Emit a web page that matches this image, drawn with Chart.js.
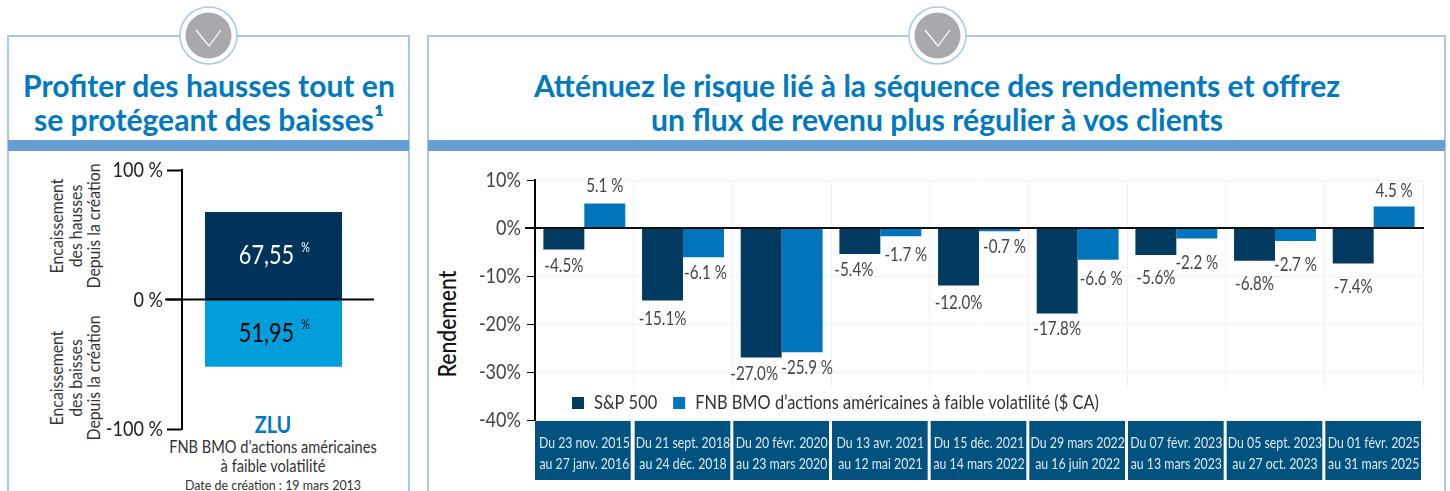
<!DOCTYPE html>
<html lang="fr"><head><meta charset="utf-8">
<script src="https://cdn.jsdelivr.net/npm/chart.js@4"></script>
<style>
html,body{margin:0;padding:0;width:1450px;height:491px;overflow:hidden;background:#fff;font-family:Lato,sans-serif}
.panel{position:absolute;top:35px;height:470px;border:2px solid #a9c9ea;box-sizing:border-box}
.band{position:absolute;top:140px;height:11px;background:#669fd6}
.line{position:absolute;white-space:nowrap;transform:translateX(-50%) scaleX(var(--k,.86));text-align:center}
.t{color:#0079c1;font-weight:700;font-size:31px;line-height:34px;--k:.97}
.rot{position:absolute;transform:translate(-50%,-50%) rotate(-90deg) scaleX(.88);text-align:center;white-space:nowrap;color:#333;font-size:18px;line-height:18.5px}
canvas,svg{position:absolute}
</style></head><body>
<div class="panel" style="left:7px;width:403px"></div>
<div class="panel" style="left:427px;width:1019px"></div>
<div class="band" style="left:8px;width:401px"></div>
<div class="band" style="left:428px;width:1017px"></div>
<svg style="left:0;top:0" width="1450" height="80">
  <g><circle cx="208.5" cy="35.5" r="28.5" fill="#fff" stroke="#a9c9ea" stroke-width="1.5"/><circle cx="208.5" cy="35.5" r="23" fill="#a7a9ac"/><path d="M196 30 L209 46 L221 30" fill="none" stroke="#fff" stroke-width="1.2"/></g>
  <g><circle cx="937.5" cy="35.5" r="28.5" fill="#fff" stroke="#a9c9ea" stroke-width="1.5"/><circle cx="937.5" cy="35.5" r="23" fill="#a7a9ac"/><path d="M925 30 L938 46 L950 30" fill="none" stroke="#fff" stroke-width="1.2"/></g>
</svg>
<div class="line t" style="left:208.5px;top:68px">Profiter des hausses tout en</div>
<div class="line t" style="left:208.5px;top:102px">se protégeant des baisses¹</div>
<div class="line t" style="left:937px;top:68px">Atténuez le risque lié à la séquence des rendements et offrez</div>
<div class="line t" style="left:937px;top:102px">un flux de revenu plus régulier à vos clients</div>
<div class="rot" style="left:75px;top:225.5px">Encaissement<br>des hausses<br>Depuis la création</div>
<div class="rot" style="left:75px;top:378px">Encaissement<br>des baisses<br>Depuis la création</div>
<div class="rot" style="left:447px;top:324px;font-size:24px;color:#111;line-height:24px;font-weight:500">Rendement</div>
<div class="line" style="left:273px;top:410px;font-size:23px;font-weight:700;color:#0079c1">ZLU</div>
<div class="line" style="left:273px;top:437px;font-size:17px;color:#333;line-height:20px">FNB BMO d’actions américaines</div>
<div class="line" style="left:273px;top:456px;font-size:17px;color:#333;line-height:20px">à faible volatilité</div>
<div class="line" style="left:273px;top:477px;font-size:13.5px;color:#333;--k:.92">Date de création : 19 mars 2013</div>
<canvas id="left" width="275" height="299" style="left:100px;top:150px"></canvas>
<canvas id="right" width="995" height="320" style="left:430px;top:160px"></canvas>
<script>
const FONT = 'Lato,sans-serif';
const SQUEEZE = 0.82;

const captureSeries = ['Encaissement des hausses', 'Encaissement des baisses'];
const captureValues = [67.55, -51.95];
const captureTicks = [100, 0, -100];

const periods = [
  ['Du 23 nov. 2015', 'au 27 janv. 2016'],
  ['Du 21 sept. 2018', 'au 24 déc. 2018'],
  ['Du 20 févr. 2020', 'au 23 mars 2020'],
  ['Du 13 avr. 2021', 'au 12 mai 2021'],
  ['Du 15 déc. 2021', 'au 14 mars 2022'],
  ['Du 29 mars 2022', 'au 16 juin 2022'],
  ['Du 07 févr. 2023', 'au 13 mars 2023'],
  ['Du 05 sept. 2023', 'au 27 oct. 2023'],
  ['Du 01 févr. 2025', 'au 31 mars 2025']
];
const sp500 = [-4.5, -15.1, -27.0, -5.4, -12.0, -17.8, -5.6, -6.8, -7.4];
const zlu = [5.1, -6.1, -25.9, -1.7, -0.7, -6.6, -2.2, -2.7, 4.5];
const sp500Name = 'S&P 500';
const zluName = 'FNB BMO d’actions américaines à faible volatilité ($ CA)';

// The reference face is condensed: squeeze all canvas text horizontally.
function condense(canvas) {
  const ctx = canvas.getContext('2d');
  const fill = ctx.fillText.bind(ctx), measure = ctx.measureText.bind(ctx);
  ctx.fillText = function (t, x, y) {
    ctx.save(); ctx.translate(x, y); ctx.scale(SQUEEZE, 1); fill(t, 0, 0); ctx.restore();
  };
  ctx.measureText = function (t) { return {width: measure(t).width * SQUEEZE}; };
  return canvas;
}

const capturePlugin = {
  id: 'capture',
  afterDatasetsDraw(chart) {
    const {ctx, scales: {y}} = chart;
    const zero = y.getPixelForValue(0);
    ctx.save();
    ctx.strokeStyle = '#000'; ctx.lineWidth = 2;
    ctx.beginPath(); ctx.moveTo(65, zero); ctx.lineTo(274, zero); ctx.stroke();
    ctx.textBaseline = 'middle';
    chart.data.datasets.forEach((ds, i) => {
      const el = chart.getDatasetMeta(i).data[0];
      const s = Math.abs(ds.data[0]).toFixed(2).replace('.', ',');
      const cy = (el.y + zero) / 2;
      ctx.fillStyle = i === 0 ? '#fff' : '#000';
      ctx.font = '26.5px ' + FONT;
      const w = ctx.measureText(s).width;
      const cx = el.x - 7;
      ctx.textAlign = 'center';
      ctx.fillText(s, cx, cy);
      ctx.font = '13px ' + FONT;
      ctx.textAlign = 'left';
      ctx.fillText('%', cx + w / 2 + 7, cy - 8);
    });
    ctx.restore();
  }
};

new Chart(condense(document.getElementById('left')), {
  type: 'bar',
  data: {
    labels: ['ZLU'],
    datasets: [
      {label: captureSeries[0], data: [captureValues[0]], backgroundColor: '#003359', barPercentage: 0.749, categoryPercentage: 1},
      {label: captureSeries[1], data: [captureValues[1]], backgroundColor: '#009fdb', barPercentage: 0.749, categoryPercentage: 1}
    ]
  },
  plugins: [capturePlugin],
  options: {
    responsive: false, animation: false,
    layout: {padding: {top: 20, bottom: 20, right: 10, left: 0}},
    plugins: {legend: {display: false}, tooltip: {enabled: false}},
    scales: {
      x: {display: false, stacked: true},
      y: {
        stacked: true, min: -100, max: 100,
        afterFit(s) { s.width = 82; },
        afterBuildTicks(s) { s.ticks = captureTicks.map(v => ({value: v})); },
        border: {color: '#000', width: 2},
        grid: {drawOnChartArea: false, tickLength: 15, tickColor: '#000', tickWidth: 2},
        ticks: {color: '#222', font: {family: FONT, size: 22}, padding: 4, callback: v => v + ' %'}
      }
    }
  }
});

// Hand-placed label nudges of the original layout, in pixels from the bar end.
const labelNudgeX = [[0, 0, -7, -6, 0, 0, 0, 0, 0], [0, 2, 5, 5, 5, 3, 0, 0, 0]];
const labelNudgeY = [[16, 19, 16, 16, 17, 16, 23, 23, 24], [-17, 16, 16, 19, 16, 19, 24, 24, -15]];

const rightPlugin = {
  id: 'rightDecor',
  beforeLayout(chart) {
    const lg = chart.legend;
    if (lg && !lg._zeroFit) {
      const fit = lg.fit;
      lg.fit = function () { fit.call(this); this.height = 0; };
      lg._layers = () => [{z: 5, draw: ca => lg.draw(ca)}];
      lg._zeroFit = true;
    }
  },
  afterLayout(chart) {
    const lg = chart.legend;
    lg.left = 126; lg.right = 800; lg.top = 217; lg.bottom = 262;
  },
  beforeDraw(chart) {
    const {ctx, scales: {x}} = chart;
    const w = x.width / x.ticks.length;
    ctx.save();
    ctx.fillStyle = '#02527f';
    x.ticks.forEach((t, i) => {
      const c = x.getPixelForTick(i);
      ctx.fillRect(c - w / 2 + (i === 0 ? 0 : 1), x.top, w - 3, 60);
    });
    ctx.restore();
  },
  afterDatasetsDraw(chart) {
    const {ctx, scales: {x, y}} = chart;
    ctx.save();
    ctx.fillStyle = '#fff';
    ctx.fillRect(x.left + 1, 230, x.width + 2, y.bottom - 230);
    const zero = y.getPixelForValue(0);
    ctx.strokeStyle = '#111'; ctx.lineWidth = 2;
    ctx.beginPath(); ctx.moveTo(x.left - 10, zero); ctx.lineTo(x.right + 1, zero); ctx.stroke();
    ctx.font = '18.5px ' + FONT; ctx.fillStyle = '#444';
    ctx.textAlign = 'center'; ctx.textBaseline = 'middle';
    chart.data.datasets.forEach((ds, i) => {
      chart.getDatasetMeta(i).data.forEach((el, j) => {
        const s = ds.data[j].toFixed(1) + (i === 0 ? '%' : ' %');
        ctx.fillText(s, el.x + labelNudgeX[i][j], el.y + labelNudgeY[i][j]);
      });
    });
    ctx.restore();
  }
};

new Chart(condense(document.getElementById('right')), {
  type: 'bar',
  data: {
    labels: periods,
    datasets: [
      {label: sp500Name, data: sp500, backgroundColor: '#023a60', barPercentage: 1, categoryPercentage: 0.83},
      {label: zluName, data: zlu, backgroundColor: '#0174bb', barPercentage: 1, categoryPercentage: 0.83}
    ]
  },
  plugins: [rightPlugin],
  options: {
    responsive: false, animation: false,
    layout: {padding: {top: 20, right: 2, bottom: 0, left: 0}},
    plugins: {
      tooltip: {enabled: false},
      legend: {
        position: 'bottom', align: 'start',
        labels: {boxWidth: 12, boxHeight: 12, padding: 16, color: '#333', font: {family: FONT, size: 20}}
      }
    },
    scales: {
      x: {
        afterFit(s) { s.height = 60; s.paddingLeft = 0; s.paddingRight = 0; },
        border: {display: false},
        grid: {color: '#f2f2f2', tickLength: 0},
        ticks: {color: '#dce8f1', font: {family: FONT, size: 15, lineHeight: 1.37}, padding: 13, maxRotation: 0, autoSkip: false}
      },
      y: {
        min: -40, max: 10,
        afterFit(s) { s.width = 105; },
        border: {color: '#000', width: 2},
        grid: {color: '#f2f2f2', tickColor: '#000', tickLength: 8, drawTicks: true},
        ticks: {stepSize: 10, color: '#444', font: {family: FONT, size: 22}, padding: 6, callback: v => v + '%'}
      }
    }
  }
});
</script>
</body></html>
